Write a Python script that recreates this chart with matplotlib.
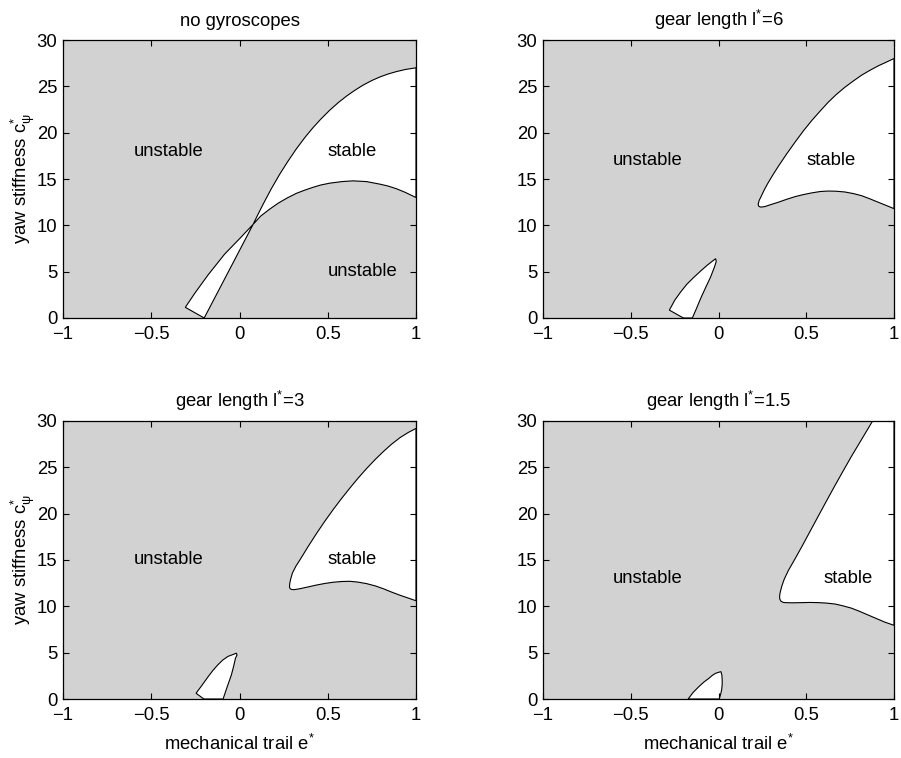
import matplotlib
matplotlib.use("Agg")
import matplotlib.pyplot as plt

plt.rcParams['font.family'] = ['Liberation Sans', 'DejaVu Sans']
plt.rcParams['mathtext.fontset'] = 'custom'
plt.rcParams['mathtext.rm'] = 'Liberation Sans'
plt.rcParams['mathtext.it'] = 'Liberation Sans:italic'

GRAY = '#d2d2d2'
FS = 13.3

titles = ['no gyroscopes', r'gear length l$^{\mathregular{*}}$=6',
          r'gear length l$^{\mathregular{*}}$=3', r'gear length l$^{\mathregular{*}}$=1.5']
xticks = [-1, -0.5, 0, 0.5, 1]
xtick_labels = ['\u22121', '\u22120.5', '0', '0.5', '1']
yticks = [0, 5, 10, 15, 20, 25, 30]

# no gyroscopes: stable region (upper curve, then lower curve back)
stable1_e = [0.077, 0.10, 0.133, 0.18, 0.228, 0.275, 0.322, 0.37, 0.416, 0.46, 0.511, 0.56,
             0.606, 0.65, 0.700, 0.75, 0.794, 0.84, 0.889, 0.94, 1.0,
             1.0, 0.94, 0.889, 0.84, 0.794, 0.72, 0.643, 0.58, 0.511, 0.46, 0.416, 0.37,
             0.322, 0.27, 0.22, 0.171, 0.12, 0.077]
stable1_c = [10.1, 11.0, 12.25, 13.94, 15.52, 16.93, 18.25, 19.47, 20.53, 21.45, 22.42, 23.25,
             23.94, 24.53, 25.13, 25.63, 26.0, 26.32, 26.59, 26.82, 27.0,
             13.0, 13.55, 13.95, 14.25, 14.45, 14.72, 14.8, 14.72, 14.55, 14.35, 14.1, 13.8,
             13.45, 12.95, 12.4, 11.75, 11.0, 10.1]
wedge1_e = [0.077, 0.0, -0.084, -0.13, -0.178, -0.22, -0.254, -0.307, -0.2, -0.06, 0.077]
wedge1_c = [10.1, 8.55, 6.9, 5.8, 4.65, 3.55, 2.65, 1.15, 0.0, 5.1, 10.1]

# l*=6
stable2_e = [0.226, 0.232, 0.240, 0.26, 0.28, 0.31, 0.342, 0.39, 0.437, 0.484, 0.531, 0.58,
             0.626, 0.67, 0.720, 0.77, 0.815, 0.86, 0.909, 0.955, 1.0,
             1.0, 0.955, 0.909, 0.86, 0.815, 0.77, 0.720, 0.67, 0.626, 0.58, 0.531, 0.484,
             0.437, 0.39, 0.342, 0.30, 0.265, 0.245, 0.235, 0.228, 0.226]
stable2_c = [12.3, 12.7, 13.0, 13.8, 14.5, 15.45, 16.4, 17.75, 19.0, 20.2, 21.3, 22.35,
             23.3, 24.1, 24.9, 25.6, 26.2, 26.7, 27.2, 27.6, 28.0,
             11.8, 12.15, 12.5, 12.88, 13.2, 13.42, 13.6, 13.68, 13.7, 13.65, 13.5, 13.32,
             13.1, 12.82, 12.5, 12.25, 12.03, 11.97, 12.0, 12.1, 12.3]
wedge2_e = [-0.016, -0.027, -0.064, -0.10, -0.140, -0.18, -0.216, -0.25, -0.28, -0.2,
            -0.149, -0.125, -0.102, -0.073, -0.045, -0.023, -0.013, -0.016]
wedge2_c = [6.4, 6.25, 5.7, 5.1, 4.4, 3.65, 2.8, 1.9, 0.85, 0.0,
            0.0, 1.05, 2.1, 3.3, 4.43, 5.5, 6.1, 6.4]

# l*=3
stable3_e = [0.283, 0.285, 0.290, 0.30, 0.32, 0.342, 0.39, 0.437, 0.484, 0.531, 0.58, 0.626,
             0.67, 0.720, 0.77, 0.815, 0.86, 0.909, 0.955, 1.0,
             1.0, 0.955, 0.909, 0.86, 0.815, 0.77, 0.720, 0.67, 0.626, 0.58, 0.531, 0.484,
             0.437, 0.39, 0.342, 0.31, 0.295, 0.287, 0.283]
stable3_c = [12.1, 12.5, 12.95, 13.6, 14.35, 15.0, 16.49, 17.88, 19.2, 20.45, 21.68, 22.78,
             23.79, 24.87, 25.87, 26.7, 27.47, 28.2, 28.75, 29.2,
             10.6, 10.9, 11.2, 11.55, 11.9, 12.2, 12.45, 12.62, 12.7, 12.68, 12.6, 12.47,
             12.3, 12.1, 11.9, 11.8, 11.82, 11.9, 12.1]
wedge3_e = [-0.018, -0.030, -0.065, -0.095, -0.122, -0.15, -0.178, -0.21, -0.246, -0.202,
            -0.093, -0.07, -0.046, -0.033, -0.023, -0.014, -0.018]
wedge3_c = [4.95, 4.85, 4.6, 4.2, 3.7, 3.1, 2.4, 1.55, 0.62, 0.0,
            0.0, 1.3, 2.6, 3.55, 4.4, 4.75, 4.95]

# l*=1.5
stable4_e = [0.878, 0.815, 0.758, 0.71, 0.664, 0.615, 0.569, 0.52, 0.475, 0.435, 0.399,
             0.375, 0.361, 0.352, 0.348, 0.349, 0.356, 0.368, 0.38,
             0.42, 0.475, 0.52, 0.569, 0.615, 0.664, 0.71, 0.758, 0.805, 0.853, 0.9, 0.947,
             1.0, 1.0]
stable4_c = [30.0, 28.0, 26.2, 24.6, 23.05, 21.36, 19.75, 18.03, 16.45, 15.09, 13.9,
             12.95, 12.2, 11.55, 11.1, 10.8, 10.55, 10.43, 10.4,
             10.38, 10.4, 10.42, 10.4, 10.35, 10.25, 10.05, 9.8, 9.45, 9.06, 8.68, 8.3,
             7.95, 30.0]
wedge4_e = [0.014, 0.004, -0.017, -0.035, -0.055, -0.085, -0.112, -0.145, -0.173,
            0.004, 0.012, 0.018, 0.021, 0.021, 0.019, 0.014]
wedge4_c = [2.95, 2.9, 2.77, 2.55, 2.23, 1.8, 1.33, 0.7, 0.0,
            0.0, 0.5, 1.0, 1.55, 2.05, 2.6, 2.95]

stable_e = [stable1_e, stable2_e, stable3_e, stable4_e]
stable_c = [stable1_c, stable2_c, stable3_c, stable4_c]
wedge_e = [wedge1_e, wedge2_e, wedge3_e, wedge4_e]
wedge_c = [wedge1_c, wedge2_c, wedge3_c, wedge4_c]

# region labels: (text, e, c)
labels = [
    [('unstable', -0.6, 18), ('stable', 0.5, 18), ('unstable', 0.5, 5)],
    [('unstable', -0.6, 17), ('stable', 0.5, 17)],
    [('unstable', -0.6, 15), ('stable', 0.5, 15)],
    [('unstable', -0.6, 13), ('stable', 0.6, 13)],
]

fig = plt.figure(figsize=(9.01, 7.58), dpi=100)
W, H = 901.0, 758.0
boxes = [(63, 40, 416, 318), (543, 40, 894, 318), (63, 421, 416, 699), (543, 421, 894, 699)]

for i, (x0, y0, x1, y1) in enumerate(boxes):
    ax = fig.add_axes([x0 / W, 1 - y1 / H, (x1 - x0) / W, (y1 - y0) / H])
    ax.set_facecolor(GRAY)
    ax.fill(stable_e[i], stable_c[i], facecolor='white', edgecolor='black', lw=0.8)
    ax.fill(wedge_e[i], wedge_c[i], facecolor='white', edgecolor='black', lw=0.8)
    for txt, e, c in labels[i]:
        ax.text(e, c, txt, ha='left', va='center', fontsize=FS)
    ax.set_xlim(-1, 1)
    ax.set_ylim(0, 30)
    ax.set_xticks(xticks)
    ax.set_xticklabels(xtick_labels)
    ax.set_yticks(yticks)
    ax.tick_params(direction='in', top=True, right=True, length=4, width=0.8,
                   labelsize=FS)
    ax.tick_params(axis='x', pad=6)
    ax.tick_params(axis='y', pad=4)
    for s in ax.spines.values():
        s.set_linewidth(0.9)
    ax.set_title(titles[i], fontsize=FS, pad=10)
    if i % 2 == 0:
        ax.set_ylabel(r'yaw stiffness c$^{\mathregular{*}}_{\mathregular{\psi}}$', fontsize=FS, labelpad=0)
    if i >= 2:
        ax.set_xlabel(r'mechanical trail e$^{\mathregular{*}}$', fontsize=FS, labelpad=7)

fig.savefig('out.png', dpi=100)
